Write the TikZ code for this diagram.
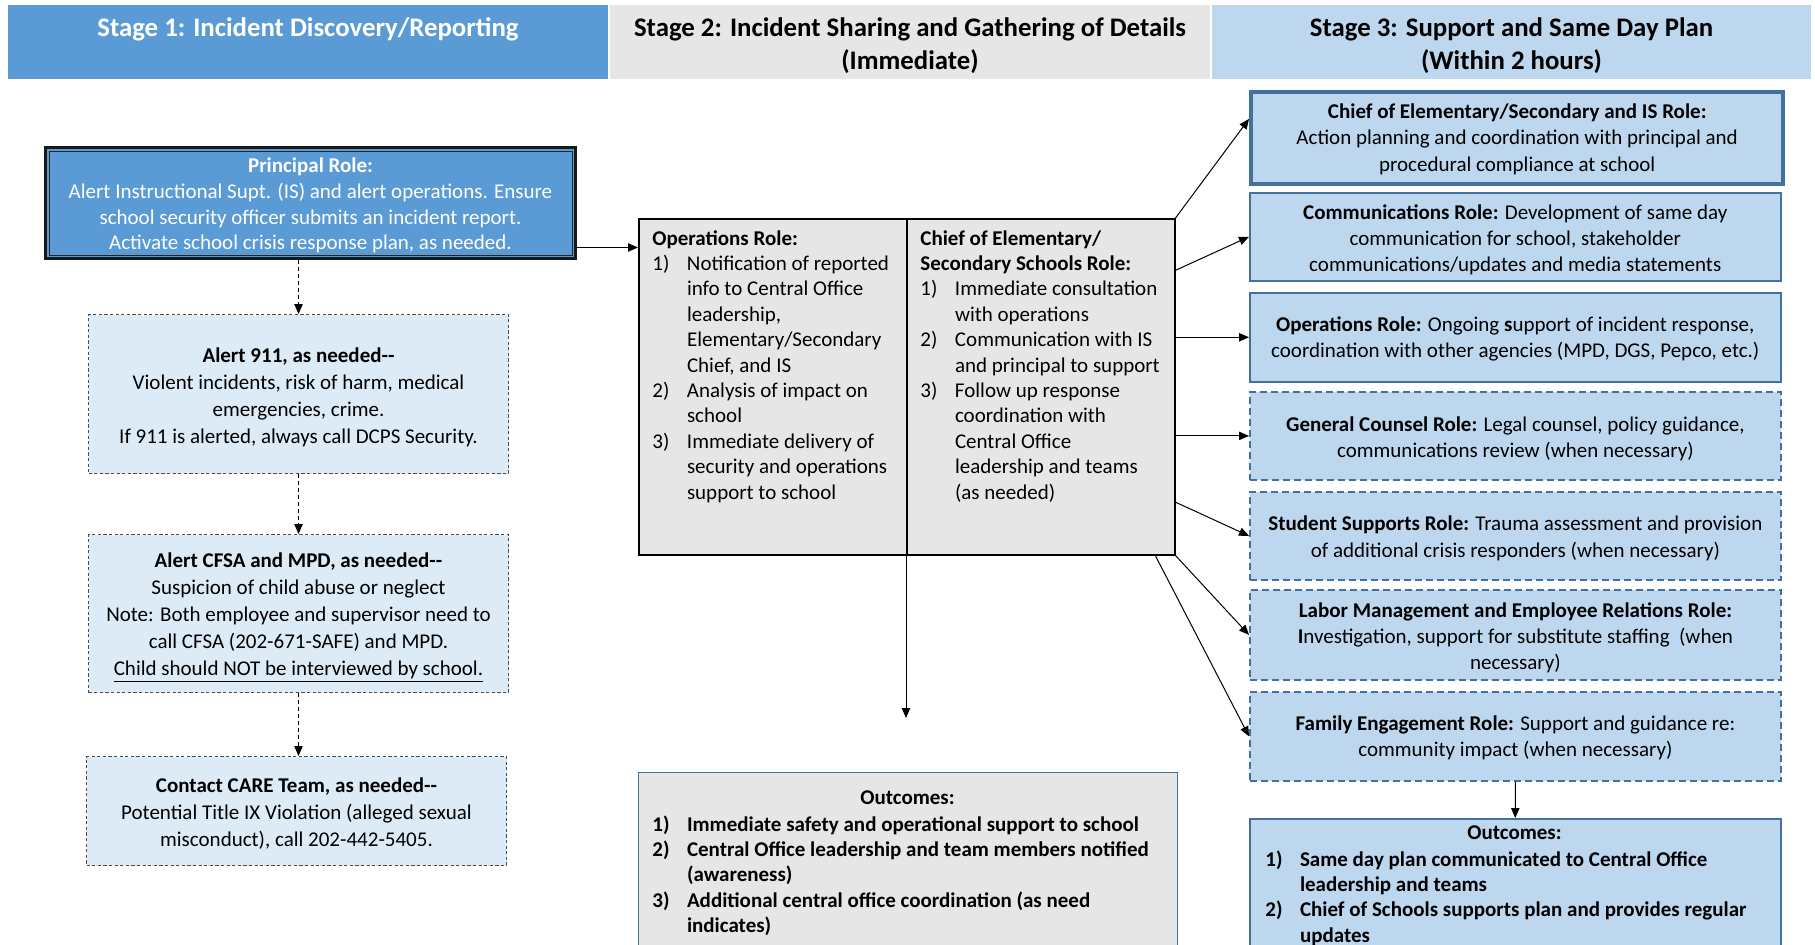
\documentclass[tikz,border=0pt]{standalone}
\usepackage{fontspec}
\setmainfont{Carlito}
\usetikzlibrary{arrows.meta,calc}
\definecolor{sonebg}{HTML}{5B9BD5}
\definecolor{stwobg}{HTML}{E7E6E6}
\definecolor{sthreebg}{HTML}{BDD7EE}
\definecolor{lightbox}{HTML}{DDEBF7}
\definecolor{bluebd}{HTML}{41719C}
\newcommand\lstnum[1]{\makebox[17.3pt][l]{#1}}
\newcommand\lstind{\hspace*{17.3pt}}
\begin{document}
\begin{tikzpicture}[x=0.5pt,y=-0.5pt,
  base/.style={anchor=north west, inner sep=0pt},
  hdr/.style={base, minimum height=37pt},
  hdrtxt/.style={inner sep=0pt, align=center, font=\fontsize{13.4}{16.3}\selectfont\bfseries},
  lbox/.style={base, fill=lightbox, draw=black!70, dash pattern=on 1.6pt off 1.2pt, line width=0.5pt, minimum width=210pt},
  ltxt/.style={inner sep=0pt, align=center, font=\fontsize{10.5}{13.5}\selectfont},
  rbase/.style={base, fill=sthreebg, draw=bluebd, minimum width=265.5pt},
  rtxt/.style={inner sep=0pt, align=center, font=\fontsize{10.5}{13.1}\selectfont},
  rsolid/.style={rbase, line width=0.75pt},
  rdash/.style={rbase, line width=0.9pt, dash pattern=on 3.5pt off 2pt},
  gbox/.style={base, fill=stwobg, draw=black, line width=0.75pt, minimum width=134pt, minimum height=168pt},
  txt/.style={anchor=north west, inner sep=0pt, align=left, font=\fontsize{10.5}{12.7}\selectfont},
  btxt/.style={txt, font=\fontsize{10.5}{12.7}\selectfont\bfseries},
  arr/.style={-{Triangle[length=5pt,width=4.2pt]}, line width=0.5pt},
  darr/.style={arr, dash pattern=on 2pt off 1.5pt},
]
\useasboundingbox (0,0) rectangle (1815,944);
\clip (0,0) rectangle (1815,944);
\fill[white] (0,0) rectangle (1815,944);

% headers
\node[hdr, fill=sonebg, minimum width=300pt] (s1) at (8,5) {};
\node[hdr, fill=stwobg, minimum width=300pt] (s2) at (610,5) {};
\node[hdr, fill=sthreebg, minimum width=299.5pt] (s3) at (1212,5) {};
\node[hdrtxt, text=white] (s1t) at (308,29.5) {Stage 1: Incident Discovery/Reporting};
\node[hdrtxt] (s2t) at (910,45.5) {Stage 2: Incident Sharing and Gathering of Details\\(Immediate)};
\node[hdrtxt] (s3t) at (1511.5,45.5) {Stage 3: Support and Same Day Plan\\(Within 2 hours)};

% stage 1
\node[base, fill=sonebg, draw=black!90, line width=1.5pt, minimum width=265pt, minimum height=55.5pt] (principal) at (44,146) {};
\draw[black!85, line width=0.5pt] ($(principal.north west)+(5,5)$) rectangle ($(principal.south east)+(-5,-5)$);
\node[inner sep=0pt, align=center, text=white, font=\fontsize{10.5}{12.9}\selectfont] (principalt) at ($(principal.center)+(0,2.5)$)
  {\textbf{Principal Role:}\\Alert Instructional Supt. (IS) and alert operations. Ensure\\school security officer submits an incident report.\\Activate school crisis response plan, as needed.};

\node[lbox, minimum height=79.5pt] (a911) at (88,314) {};
\node[ltxt] (a911t) at ($(a911.center)+(0,3.5)$)
  {\textbf{Alert 911, as needed-{}-}\\Violent incidents, risk of harm, medical\\emergencies, crime.\\If 911 is alerted, always call DCPS Security.};
\node[lbox, minimum height=79pt] (cfsa) at (88,534) {};
\node[ltxt] (cfsat) at ($(cfsa.center)+(0,4.5)$)
  {\textbf{Alert CFSA and MPD, as needed-{}-}\\Suspicion of child abuse or neglect\\Note: Both employee and supervisor need to\\call CFSA (202-671-SAFE) and MPD.\\\underline{Child should NOT be interviewed by school.}};
\node[lbox, minimum height=54.5pt] (care) at (86,756) {};
\node[ltxt] (caret) at ($(care.center)+(0,3)$)
  {\textbf{Contact CARE Team, as needed-{}-}\\Potential Title IX Violation (alleged sexual\\misconduct), call 202-442-5405.};

% stage 2
\node[gbox] (opsbox) at (638,218) {};
\node[gbox] (chfbox) at (906,218) {};
\node[txt] (opstxt) at (652,230)
  {\textbf{Operations Role:}\\
   \lstnum{1)}Notification of reported\\
   \lstind info to Central Office\\
   \lstind leadership,\\
   \lstind Elementary/Secondary\\
   \lstind Chief, and IS\\
   \lstnum{2)}Analysis of impact on\\
   \lstind school\\
   \lstnum{3)}Immediate delivery of\\
   \lstind security and operations\\
   \lstind support to school};
\node[txt] (chftxt) at (920,230)
  {\textbf{Chief of Elementary/}\\
   \textbf{Secondary Schools Role:}\\
   \lstnum{1)}Immediate consultation\\
   \lstind with operations\\
   \lstnum{2)}Communication with IS\\
   \lstind and principal to support\\
   \lstnum{3)}Follow up response\\
   \lstind coordination with\\
   \lstind Central Office\\
   \lstind leadership and teams\\
   \lstind (as needed)};

\node[base, fill=stwobg, draw=bluebd, line width=0.6pt, minimum width=269.5pt, minimum height=125pt] (out2) at (638,772) {};
\node[inner sep=0pt, font=\fontsize{10.5}{12.7}\selectfont\bfseries] (out2t) at (907.5,798) {Outcomes:};
\node[btxt] (out2l) at (652,815)
  {\lstnum{1)}Immediate safety and operational support to school\\
   \lstnum{2)}Central Office leadership and team members notified\\
   \lstind(awareness)\\
   \lstnum{3)}Additional central office coordination (as need\\
   \lstind indicates)};

% stage 3
\node[rbase, line width=2.2pt, minimum width=266pt, minimum height=46pt] (s3a) at (1249,90) {};
\node[rtxt] (s3at) at ($(s3a.center)+(0,1)$)
  {\textbf{Chief of Elementary/Secondary and IS Role:}\\Action planning and coordination with principal and\\procedural compliance at school};
\node[rsolid, minimum height=44pt] (s3b) at (1249,192) {};
\node[rtxt] (s3bt) at ($(s3b.center)+(0,3)$)
  {\textbf{Communications Role:} Development of same day\\communication for school, stakeholder\\communications/updates and media statements};
\node[rsolid, minimum height=44.5pt] (s3c) at (1249,292) {};
\node[rtxt] (s3ct) at ($(s3c.center)+(0,1.5)$)
  {\textbf{Operations Role:} Ongoing \textbf{s}upport of incident response,\\coordination with other agencies (MPD, DGS, Pepco, etc.)};
\node[rdash, minimum height=44pt] (s3d) at (1249,391) {};
\node[rtxt] (s3dt) at ($(s3d.center)+(0,3)$)
  {\textbf{General Counsel Role:} Legal counsel, policy guidance,\\communications review (when necessary)};
\node[rdash, minimum height=44pt] (s3e) at (1249,491) {};
\node[rtxt] (s3et) at ($(s3e.center)+(0,2.5)$)
  {\textbf{Student Supports Role:} Trauma assessment and provision\\of additional crisis responders (when necessary)};
\node[rdash, minimum height=45pt] (s3f) at (1249,589) {};
\node[rtxt] (s3ft) at ($(s3f.center)+(0,3)$)
  {\textbf{Labor Management and Employee Relations Role:}\\\textbf{I}nvestigation, support for substitute staffing~~(when\\necessary)};
\node[rdash, minimum height=44.5pt] (s3g) at (1249,691) {};
\node[rtxt] (s3gt) at ($(s3g.center)+(0,1.5)$)
  {\textbf{Family Engagement Role:} Support and guidance re:\\community impact (when necessary)};

\node[base, fill=sthreebg, draw=bluebd, line width=0.75pt, minimum width=265.5pt, minimum height=100pt] (out3) at (1249,818) {};
\node[inner sep=0pt, font=\fontsize{10.5}{12.7}\selectfont\bfseries] (out3t) at (1514.5,833) {Outcomes:};
\node[btxt] (out3l) at (1265,850)
  {\lstnum{1)}Same day plan communicated to Central Office\\
   \lstind leadership and teams\\
   \lstnum{2)}Chief of Schools supports plan and provides regular\\
   \lstind updates};

% connectors
\coordinate (pa) at ($(principal.north east)!0.89!(principal.south east)$);
\draw[arr] (pa) -- (pa -| opsbox.west);
\draw[darr] (a911.north |- principal.south) -- (a911.north);
\draw[darr] (a911.south) -- (cfsa.north);
\draw[darr] (cfsa.south) -- (cfsa.south |- care.north);

\draw[arr] (chfbox.north east) -- ($(s3a.north west)!0.3!(s3a.south west)$);
\draw[arr] ($(chfbox.north east)!0.155!(chfbox.south east)$) -- (s3b.west);
\draw[arr] (s3c.west -| chfbox.east) -- (s3c.west);
\draw[arr] (s3d.west -| chfbox.east) -- (s3d.west);
\draw[arr] ($(chfbox.north east)!0.842!(chfbox.south east)$) -- (s3e.west);
\draw[arr] (chfbox.south east) -- (s3f.west);
\draw[arr] ($(chfbox.south west)!0.925!(chfbox.south east)$) -- (s3g.west);
\coordinate (s2end) at (906,718);
\draw[arr] (chfbox.south west) -- (s2end);
\draw[arr] (s3g.south) -- (out3.north);
\end{tikzpicture}
\end{document}
